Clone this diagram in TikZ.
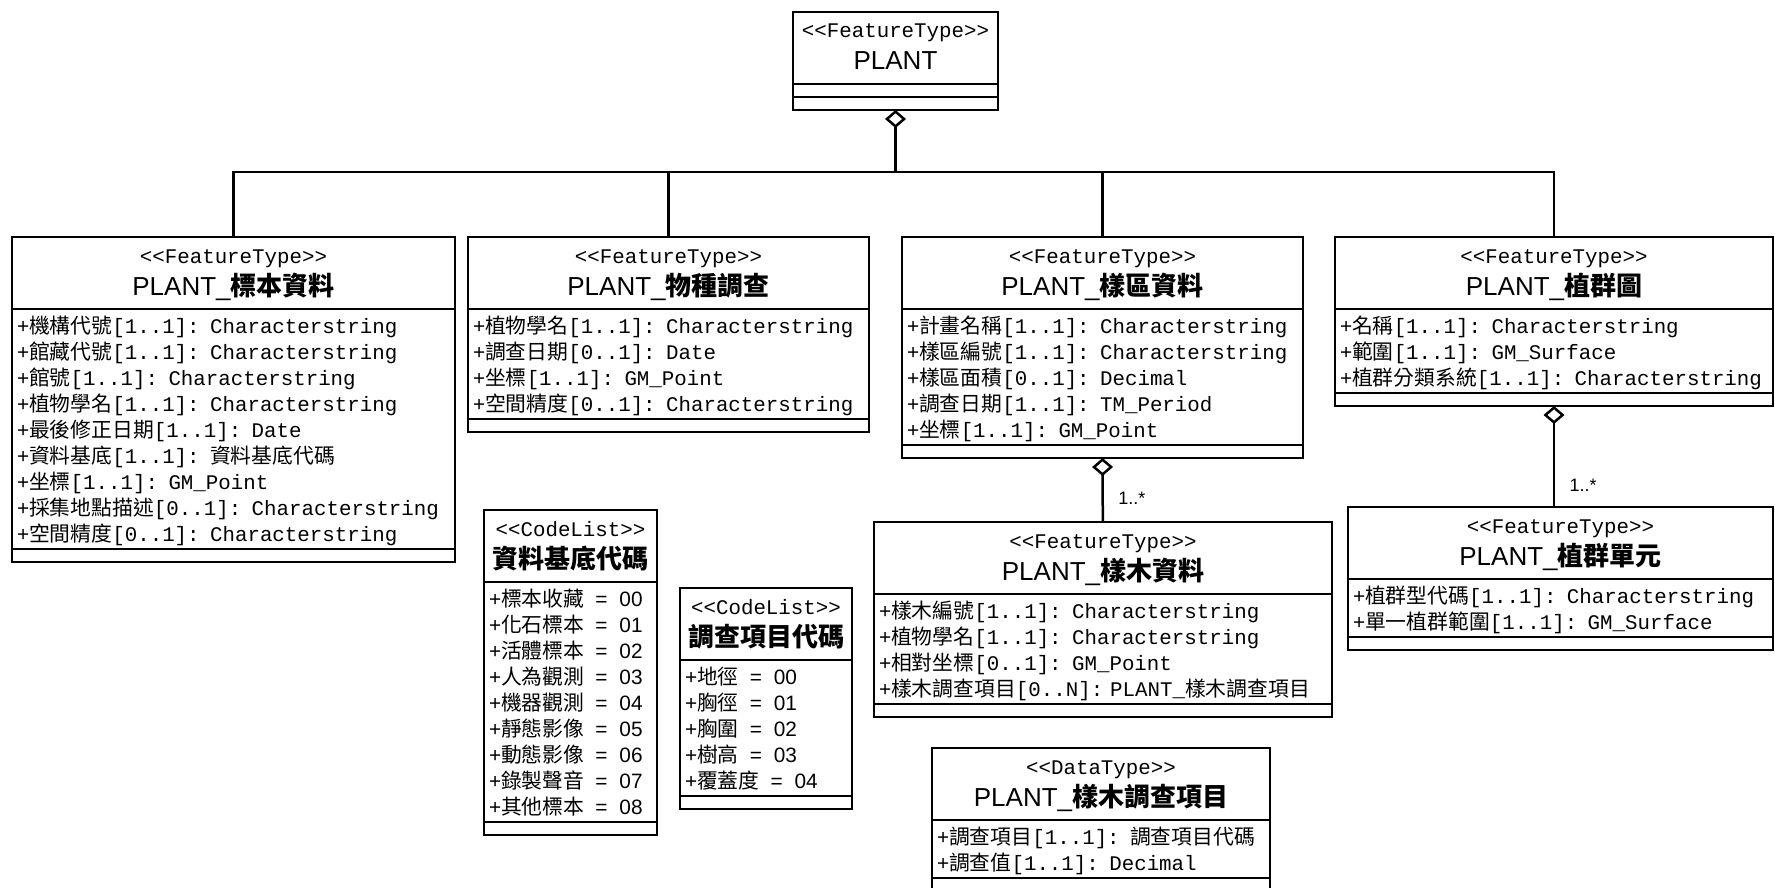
\documentclass[tikz,border=0pt]{standalone}
\usepackage{fontspec}
\setmainfont{Liberation Sans}
\newfontfamily\mono[Ligatures=TeXOff]{Liberation Mono}
\newfontfamily\cjk{Noto Sans CJK TC}
\usetikzlibrary{positioning,arrows.meta}

\newcommand\stereo[1]{{\mono\fontsize{20.8}{24}\selectfont <<#1>>}}
\newcommand\clshead[2]{\rule{0pt}{18pt}\stereo{#1}\\\rule[-6pt]{0pt}{6pt}#2}
\newcommand\fld[2]{\mbox{\rule[-5pt]{0pt}{26pt}+{\cjk #1}{\mono #2}}}
\newcommand\cval[2]{\mbox{\rule[-5pt]{0pt}{26pt}+{\cjk #1}\hspace{11pt}=\hspace{12pt}#2}}

\tikzset{
  uml/.style={draw, line width=2.5pt, inner sep=0pt, outer sep=0pt, fill=white},
  head/.style={uml, minimum width=#1, minimum height=72pt, align=center,
    font=\fontsize{26}{32}\selectfont},
  body/.style={uml, inner xsep=5pt, text width=#1, align=left,
    font=\fontsize{20.8}{26}\selectfont},
  foot/.style={uml, minimum width=#1, minimum height=13pt},
  line/.style={line width=2.5pt},
  agg/.style={line, arrows={Diamond[open, length=18pt, width=21pt]-}},
  mult/.style={font=\fontsize{18}{20}\selectfont, right=11pt}
}

\begin{document}
\begin{tikzpicture}[x=1pt, y=-1pt]
        \useasboundingbox (0,0) rectangle (1775,888);

        \node[head=205pt, anchor=north west] (plant) at (793,12) {\clshead{FeatureType}{PLANT}};
        \node[foot=205pt, below=0pt of plant] (plant-a) {};
        \node[foot=205pt, below=0pt of plant-a] (plant-o) {};

        \node[head=443pt, anchor=north west] (sample) at (12,237) {\clshead{FeatureType}{PLANT\_{\cjk\bfseries 標本資料}}};
        \node[body=433pt, minimum height=240pt, below=0pt of sample] (sample-a) {\fld{機構代號}{[1..1]: Characterstring}\\
          \fld{館藏代號}{[1..1]: Characterstring}\\
          \fld{館號}{[1..1]: Characterstring}\\
          \fld{植物學名}{[1..1]: Characterstring}\\
          \fld{最後修正日期}{[1..1]: Date}\\
          \fld{資料基底}{[1..1]: {\cjk 資料基底代碼}}\\
          \fld{坐標}{[1..1]: GM\_Point}\\
          \fld{採集地點描述}{[0..1]: Characterstring}\\
          \fld{空間精度}{[0..1]: Characterstring}};
        \node[foot=443pt, below=0pt of sample-a] (sample-o) {};

        \node[head=401pt, anchor=north west] (species) at (468,237) {\clshead{FeatureType}{PLANT\_{\cjk\bfseries 物種調查}}};
        \node[body=391pt, minimum height=110pt, below=0pt of species] (species-a) {\fld{植物學名}{[1..1]: Characterstring}\\
          \fld{調查日期}{[0..1]: Date}\\
          \fld{坐標}{[1..1]: GM\_Point}\\
          \fld{空間精度}{[0..1]: Characterstring}};
        \node[foot=401pt, below=0pt of species-a] (species-o) {};

        \node[head=401pt, anchor=north west] (plot) at (902,237) {\clshead{FeatureType}{PLANT\_{\cjk\bfseries 樣區資料}}};
        \node[body=391pt, minimum height=136pt, below=0pt of plot] (plot-a) {\fld{計畫名稱}{[1..1]: Characterstring}\\
          \fld{樣區編號}{[1..1]: Characterstring}\\
          \fld{樣區面積}{[0..1]: Decimal}\\
          \fld{調查日期}{[1..1]: TM\_Period}\\
          \fld{坐標}{[1..1]: GM\_Point}};
        \node[foot=401pt, below=0pt of plot-a] (plot-o) {};

        \node[head=438pt, anchor=north west] (veg) at (1335,237) {\clshead{FeatureType}{PLANT\_{\cjk\bfseries 植群圖}}};
        \node[body=428pt, minimum height=84pt, below=0pt of veg] (veg-a) {\fld{名稱}{[1..1]: Characterstring}\\
          \fld{範圍}{[1..1]: GM\_Surface}\\
          \fld{植群分類系統}{[1..1]: Characterstring}};
        \node[foot=438pt, below=0pt of veg-a] (veg-o) {};

        \node[head=425pt, anchor=north west] (unit) at (1348,507) {\clshead{FeatureType}{PLANT\_{\cjk\bfseries 植群單元}}};
        \node[body=415pt, minimum height=58pt, below=0pt of unit] (unit-a) {\fld{植群型代碼}{[1..1]: Characterstring}\\
          \fld{單一植群範圍}{[1..1]: GM\_Surface}};
        \node[foot=425pt, below=0pt of unit-a] (unit-o) {};

        \node[head=458pt, anchor=north west] (tree) at (874,522) {\clshead{FeatureType}{PLANT\_{\cjk\bfseries 樣木資料}}};
        \node[body=448pt, minimum height=110pt, below=0pt of tree] (tree-a) {\fld{樣木編號}{[1..1]: Characterstring}\\
          \fld{植物學名}{[1..1]: Characterstring}\\
          \fld{相對坐標}{[0..1]: GM\_Point}\\
          \fld{樣木調查項目}{[0..N]: PLANT\_{\cjk 樣木調查項目}}};
        \node[foot=458pt, below=0pt of tree-a] (tree-o) {};

        \node[head=338pt, anchor=north west] (item) at (932,748) {\clshead{DataType}{PLANT\_{\cjk\bfseries 樣木調查項目}}};
        \node[body=328pt, minimum height=58pt, below=0pt of item] (item-a) {\fld{調查項目}{[1..1]: {\cjk 調查項目代碼}}\\
          \fld{調查值}{[1..1]: Decimal}};
        \node[foot=338pt, below=0pt of item-a] (item-o) {};

        \node[head=173pt, anchor=north west] (dbcode) at (484,510) {\clshead{CodeList}{\cjk\bfseries 資料基底代碼}};
        \node[body=163pt, minimum height=240pt, below=0pt of dbcode] (dbcode-a) {\cval{標本收藏}{00}\\
          \cval{化石標本}{01}\\
          \cval{活體標本}{02}\\
          \cval{人為觀測}{03}\\
          \cval{機器觀測}{04}\\
          \cval{靜態影像}{05}\\
          \cval{動態影像}{06}\\
          \cval{錄製聲音}{07}\\
          \cval{其他標本}{08}};
        \node[foot=173pt, below=0pt of dbcode-a] (dbcode-o) {};

        \node[head=172pt, anchor=north west] (itemcode) at (680,588) {\clshead{CodeList}{\cjk\bfseries 調查項目代碼}};
        \node[body=162pt, minimum height=136pt, below=0pt of itemcode] (itemcode-a) {\cval{地徑}{00}\\
          \cval{胸徑}{01}\\
          \cval{胸圍}{02}\\
          \cval{樹高}{03}\\
          \cval{覆蓋度}{04}};
        \node[foot=172pt, below=0pt of itemcode-a] (itemcode-o) {};

        \coordinate (bus) at (895.5,172);
        \draw[agg] (plant-o.south) -- (bus);
        \draw[line] (bus) -| (sample);
        \draw[line] (bus) -| (species);
        \draw[line] (bus) -| (plot);
        \draw[line] (bus) -| (veg);
        \draw[agg] (plot-o.south) -- node[mult, pos=0.63] {1..*} (tree);
        \draw[agg] (veg-o.south) -- node[mult, pos=0.79] {1..*} (veg-o.south |- unit.north);
\end{tikzpicture}
\end{document}
